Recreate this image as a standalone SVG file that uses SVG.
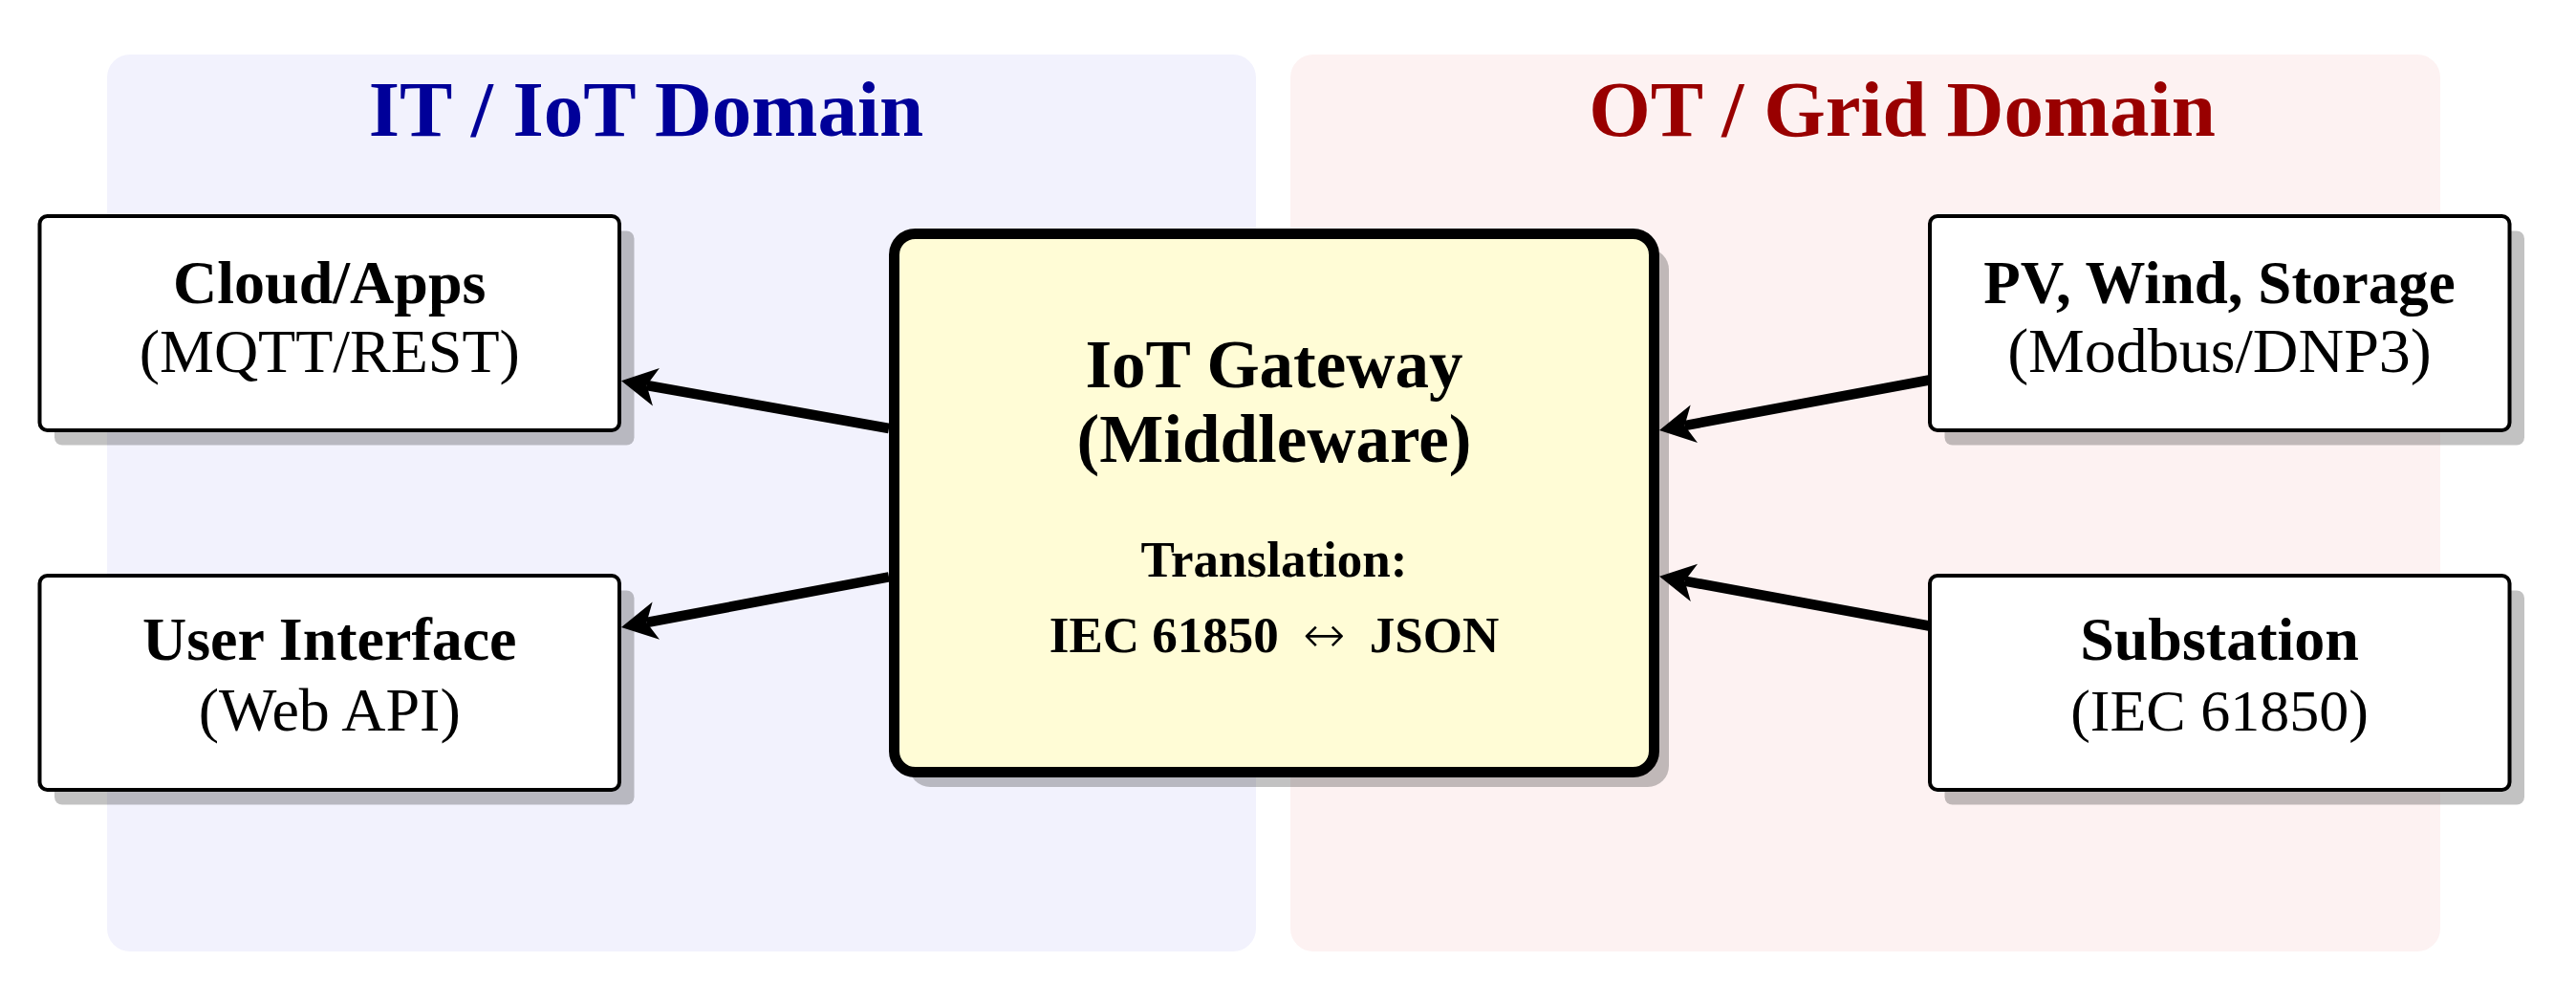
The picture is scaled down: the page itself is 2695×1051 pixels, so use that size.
<svg xmlns="http://www.w3.org/2000/svg" width="2695" height="1051" viewBox="0 0 2695 1051">
  <style>
    .panel-it { fill: #F2F2FD; }
    .panel-ot { fill: #FDF2F2; }
    .title { font-family: "Liberation Serif", "DejaVu Serif", serif; font-weight: bold; font-size: 83px; text-anchor: middle; }
    .shadow { fill: #000000; fill-opacity: 0.24; }
    .box { fill: #FFFFFF; stroke: #000000; stroke-width: 4; }
    .gw { fill: #FFFCD6; stroke: #000000; stroke-width: 11; }
    .t { font-family: "Liberation Serif", "DejaVu Serif", serif; text-anchor: middle; fill: #000000; }
    .b { font-weight: bold; }
    .arr { font-family: "DejaVu Sans", "Liberation Serif", sans-serif; font-weight: 200; }
    .conn { fill: none; stroke: #000000; stroke-width: 10.5; }
  </style>
  <defs>
    <marker id="ah" markerUnits="userSpaceOnUse" orient="auto" viewBox="-12 -22 40 44" markerWidth="40" markerHeight="44" refX="0" refY="0">
      <path d="M27,0 L-10,-20 L0,0 L-10,20 Z" fill="#000000"/>
    </marker>
  </defs>

  <rect width="2695" height="1051" fill="#FFFFFF"/>

  <g id="it-domain">
    <rect class="panel-it" x="112" y="57" width="1202" height="938" rx="24"/>
    <text class="title" x="676" y="142" fill="#000099">IT / IoT Domain</text>
  </g>
  <g id="ot-domain">
    <rect class="panel-ot" x="1350" y="57" width="1203" height="938" rx="24"/>
    <text class="title" x="1990" y="142" fill="#990000">OT / Grid Domain</text>
  </g>

  <g id="cloud-apps">
    <rect class="shadow" x="57" y="241.5" width="606.5" height="224" rx="8"/>
    <rect class="box" x="41.5" y="226" width="606.5" height="224" rx="8"/>
    <text class="t b" x="344.75" y="317" font-size="64">Cloud/Apps</text>
    <text class="t" x="344.75" y="389" font-size="64">(MQTT/REST)</text>
  </g>

  <g id="user-interface">
    <rect class="shadow" x="57" y="617.5" width="606.5" height="224" rx="8"/>
    <rect class="box" x="41.5" y="602" width="606.5" height="224" rx="8"/>
    <text class="t b" x="344.75" y="690" font-size="64">User Interface</text>
    <text class="t" x="344.75" y="764" font-size="64">(Web API)</text>
  </g>

  <g id="pv-wind-storage">
    <rect class="shadow" x="2034.5" y="241.5" width="606.5" height="224" rx="8"/>
    <rect class="box" x="2019" y="226" width="606.5" height="224" rx="8"/>
    <text class="t b" x="2322" y="317" font-size="63">PV, Wind, Storage</text>
    <text class="t" x="2322" y="389" font-size="66">(Modbus/DNP3)</text>
  </g>

  <g id="substation">
    <rect class="shadow" x="2034.5" y="617.5" width="606.5" height="224" rx="8"/>
    <rect class="box" x="2019" y="602" width="606.5" height="224" rx="8"/>
    <text class="t b" x="2322" y="690" font-size="64">Substation</text>
    <text class="t" x="2322" y="764" font-size="62">(IEC 61850)</text>
  </g>

  <g id="iot-gateway">
    <rect class="shadow" x="951" y="260" width="795" height="563" rx="22"/>
    <rect class="gw" x="935.5" y="244.5" width="795" height="563" rx="22"/>
    <text class="t b" x="1333" y="405" font-size="71">IoT Gateway</text>
    <text class="t b" x="1333" y="483" font-size="71">(Middleware)</text>
    <text class="t b" x="1333" y="603" font-size="53">Translation:</text>
    <text class="t b" x="1333" y="682" font-size="53">IEC 61850 <tspan class="arr" dx="12">↔</tspan><tspan dx="12"> JSON</tspan></text>
  </g>

  <g id="connectors">
    <line class="conn" x1="930" y1="448" x2="676.6" y2="403.0" marker-end="url(#ah)"/>
    <line class="conn" x1="930" y1="603.3" x2="676.5" y2="651.0" marker-end="url(#ah)"/>
    <line class="conn" x1="2018" y1="397.5" x2="1762.5" y2="445.1" marker-end="url(#ah)"/>
    <line class="conn" x1="2018" y1="654.5" x2="1762.6" y2="607.6" marker-end="url(#ah)"/>
  </g>
</svg>
